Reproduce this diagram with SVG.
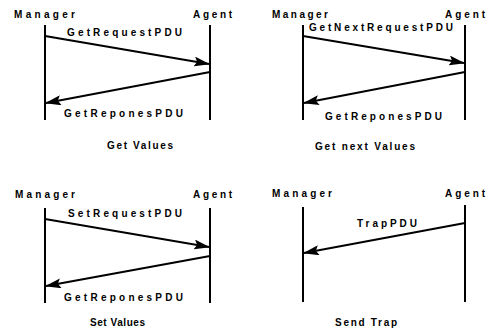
<svg xmlns="http://www.w3.org/2000/svg" width="489" height="329" viewBox="0 0 489 329">
<defs>
<marker id="ah" markerUnits="userSpaceOnUse" markerWidth="16" markerHeight="10" refX="15" refY="5" orient="auto">
<path d="M0,0 L16,5 L0,10 L3,5 Z" fill="#000"/>
</marker>
<style>
.t{font-family:"Liberation Sans",Arial,sans-serif;font-size:10px;font-weight:bold;fill:#000}
.life{stroke:#000;stroke-width:2;fill:none}
.msg{stroke:#000;stroke-width:2;fill:none;marker-end:url(#ah)}
</style>
</defs>
<rect width="489" height="329" fill="#fff"/>
<g id="nodes">
<g id="p1-manager"><text class="t" x="14" y="18" textLength="61" lengthAdjust="spacing">Manager</text><line class="life" x1="45" y1="25" x2="45" y2="120"/></g>
<g id="p1-agent"><text class="t" x="193" y="18" textLength="39" lengthAdjust="spacing">Agent</text><line class="life" x1="210" y1="25" x2="210" y2="120"/></g>
<g id="p1-title"><text class="t" x="107" y="149" textLength="66" lengthAdjust="spacing">Get Values</text></g>
<g id="p2-manager"><text class="t" x="272" y="18" textLength="56" lengthAdjust="spacing">Manager</text><line class="life" x1="303" y1="25" x2="303" y2="120"/></g>
<g id="p2-agent"><text class="t" x="445" y="18" textLength="40" lengthAdjust="spacing">Agent</text><line class="life" x1="465" y1="25" x2="465" y2="120"/></g>
<g id="p2-title"><text class="t" x="315" y="150" textLength="100" lengthAdjust="spacing">Get next Values</text></g>
<g id="p3-manager"><text class="t" x="15" y="198" textLength="60" lengthAdjust="spacing">Manager</text><line class="life" x1="45" y1="208" x2="45" y2="303"/></g>
<g id="p3-agent"><text class="t" x="193" y="198" textLength="39" lengthAdjust="spacing">Agent</text><line class="life" x1="210" y1="208" x2="210" y2="303"/></g>
<g id="p3-title"><text class="t" x="90" y="326" textLength="55" lengthAdjust="spacing">Set Values</text></g>
<g id="p4-manager"><text class="t" x="272" y="197" textLength="60" lengthAdjust="spacing">Manager</text><line class="life" x1="303" y1="207" x2="303" y2="302"/></g>
<g id="p4-agent"><text class="t" x="445" y="197" textLength="40" lengthAdjust="spacing">Agent</text><line class="life" x1="465" y1="205" x2="465" y2="302"/></g>
<g id="p4-title"><text class="t" x="335" y="326" textLength="62" lengthAdjust="spacing">Send Trap</text></g>
</g>
<g id="connectors">
<line class="msg" x1="45" y1="36" x2="209" y2="64"/>
<text class="t" x="67" y="36" textLength="115" lengthAdjust="spacing">GetRequestPDU</text>
<line class="msg" x1="210" y1="72" x2="46" y2="103"/>
<text class="t" x="64" y="117" textLength="119" lengthAdjust="spacing">GetReponesPDU</text>
<line class="msg" x1="303" y1="36" x2="464" y2="63"/>
<text class="t" x="309" y="31" textLength="144" lengthAdjust="spacing">GetNextRequestPDU</text>
<line class="msg" x1="465" y1="72" x2="304" y2="103"/>
<text class="t" x="325" y="120" textLength="117" lengthAdjust="spacing">GetReponesPDU</text>
<line class="msg" x1="45" y1="219" x2="209" y2="247"/>
<text class="t" x="68" y="217" textLength="114" lengthAdjust="spacing">SetRequestPDU</text>
<line class="msg" x1="210" y1="256" x2="46" y2="286"/>
<text class="t" x="64" y="301" textLength="119" lengthAdjust="spacing">GetReponesPDU</text>
<line class="msg" x1="465" y1="223" x2="304" y2="253"/>
<text class="t" x="357" y="227" textLength="60" lengthAdjust="spacing">TrapPDU</text>
</g>
</svg>
